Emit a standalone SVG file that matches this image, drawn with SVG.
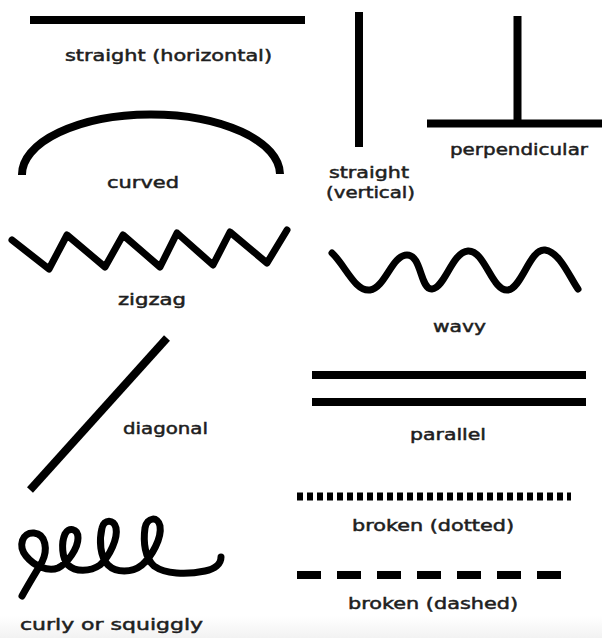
<svg xmlns="http://www.w3.org/2000/svg" width="602" height="638" viewBox="0 0 602 638">
  <defs>
    <linearGradient id="band" x1="0" y1="0" x2="0" y2="1">
      <stop offset="0" stop-color="#ffffff"/>
      <stop offset="1" stop-color="#f2f2f2"/>
    </linearGradient>
  </defs>
  <style>
    .ln { fill: none; stroke: #000; stroke-width: 8; stroke-linecap: butt; }
    .sq { fill: none; stroke: #000; stroke-width: 7; stroke-linecap: round; stroke-linejoin: round; }
    .lbl { font-family: "DejaVu Sans", "Liberation Sans", sans-serif; font-size: 16px; fill: #1e1e1e; stroke: #1e1e1e; stroke-width: 0.5; }
  </style>
  <rect x="0" y="0" width="602" height="638" fill="#ffffff"/>
  <rect x="0" y="616" width="602" height="22" fill="url(#band)"/>

  <g id="connectors">
    <line class="ln" x1="30" y1="20" x2="305" y2="20"/>
    <line class="ln" x1="359" y1="12" x2="359" y2="147"/>
    <line class="ln" x1="427" y1="123.5" x2="602" y2="123.5"/>
    <line class="ln" x1="517.5" y1="16" x2="517.5" y2="123"/>
    <path class="ln" stroke-width="7" d="M 22 175 A 129 60 0 0 1 280 174"/>
    <polyline class="sq" stroke-linecap="butt" points="12,240 49,269 67,235 105,267 123,235 160,267 177,233 213,265 230,232 267,263 287,230"/>
    <path class="sq" stroke-linecap="butt" d="M 332 253 C 345 265, 355 292, 370 290 C 385 288, 392 255, 407 255 C 422 255, 420 290, 432 289 C 445 288, 452 252, 468 251 C 485 250, 492 292, 508 290 C 522 288, 530 248, 545 250 C 560 252, 570 278, 578 289"/>
    <line class="ln" stroke-width="7" x1="167" y1="338" x2="30" y2="490"/>
    <line class="ln" stroke-width="7" x1="312" y1="375" x2="586" y2="375"/>
    <line class="ln" stroke-width="7" x1="312" y1="402" x2="586" y2="402"/>
    <line class="ln" stroke-width="5" stroke-dasharray="6 4" x1="297" y1="496.5" x2="571" y2="496.5"/>
    <line class="ln" stroke-width="5" stroke-dasharray="24 16" x1="297" y1="575" x2="561" y2="575"/>
    <path class="sq" d="M 22 596 C 28 585, 36 572, 42 562 C 48 550, 46 534, 34 533 C 22 532, 18 546, 26 556 C 34 566, 48 572, 58 568 C 68 563, 78 548, 78 538 C 78 528, 68 527, 65 534 C 61 543, 62 558, 68 565 C 75 572, 90 572, 100 565 C 110 556, 118 538, 116 528 C 114 519, 104 519, 102 528 C 99 540, 100 557, 108 565 C 116 573, 132 573, 142 565 C 152 556, 162 538, 160 526 C 158 516, 147 517, 145 528 C 143 542, 145 558, 154 566 C 165 574, 186 575, 205 571 C 215 569, 221 564, 221 557"/>
  </g>

  <g id="horizontal"><text class="lbl" x="65" y="61" textLength="207" lengthAdjust="spacingAndGlyphs">straight (horizontal)</text></g>
  <g id="curved"><text class="lbl" x="107" y="188" textLength="72" lengthAdjust="spacingAndGlyphs">curved</text></g>
  <g id="vertical">
    <text class="lbl" x="329" y="178" textLength="80" lengthAdjust="spacingAndGlyphs">straight</text>
    <text class="lbl" x="326" y="198" textLength="89" lengthAdjust="spacingAndGlyphs">(vertical)</text>
  </g>
  <g id="perpendicular"><text class="lbl" x="450" y="155" textLength="138" lengthAdjust="spacingAndGlyphs">perpendicular</text></g>
  <g id="zigzag"><text class="lbl" x="118" y="305" textLength="68" lengthAdjust="spacingAndGlyphs">zigzag</text></g>
  <g id="wavy"><text class="lbl" x="433" y="332" textLength="53" lengthAdjust="spacingAndGlyphs">wavy</text></g>
  <g id="diagonal"><text class="lbl" x="123" y="434" textLength="85" lengthAdjust="spacingAndGlyphs">diagonal</text></g>
  <g id="parallel"><text class="lbl" x="410" y="440" textLength="76" lengthAdjust="spacingAndGlyphs">parallel</text></g>
  <g id="dotted"><text class="lbl" x="352" y="531" textLength="162" lengthAdjust="spacingAndGlyphs">broken (dotted)</text></g>
  <g id="dashed"><text class="lbl" x="348" y="609" textLength="170" lengthAdjust="spacingAndGlyphs">broken (dashed)</text></g>
  <g id="curly"><text class="lbl" x="20" y="630" textLength="183" lengthAdjust="spacingAndGlyphs">curly or squiggly</text></g>
</svg>
